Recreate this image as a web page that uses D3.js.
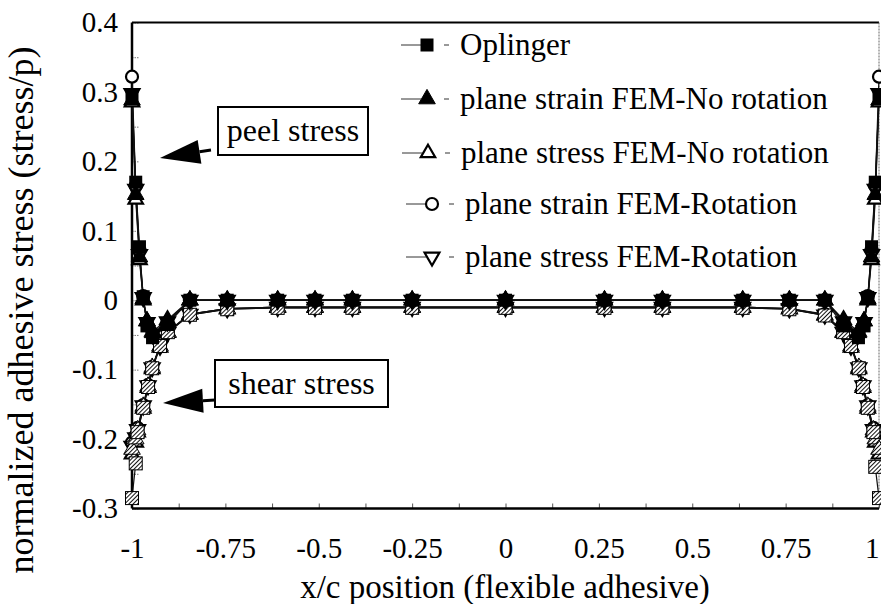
<!DOCTYPE html>
<html>
<head>
<meta charset="utf-8">
<script src="https://cdn.jsdelivr.net/npm/d3@7"></script>
<style>
  html, body { margin: 0; padding: 0; background: #fff; }
  svg { display: block; }
</style>
</head>
<body>
<svg id="chart" width="881" height="604"></svg>
<script>
// ---- data -------------------------------------------------------------
// normalized peel stress along the overlap
const xPeel = [-1, -0.99, -0.98, -0.97, -0.96, -0.945, -0.905, -0.845, -0.745, -0.61, -0.51, -0.41, -0.25,
               0, 0.265, 0.42, 0.635, 0.76, 0.855, 0.905, 0.945, 0.96, 0.97, 0.98, 0.99, 1];
const peelOplinger   = [0.295, 0.17, 0.077, 0.005, -0.037, -0.054, -0.035, 0, 0, 0, 0, 0, 0,
                        0, 0, 0, 0, 0, 0, -0.037, -0.054, -0.037, 0.004, 0.077, 0.17, 0.295];
const peelStrainNoRot = [0.288, 0.152, 0.062, 0.002, -0.03, -0.047, -0.03, 0, 0, 0, 0, 0, 0,
                        0, 0, 0, 0, 0, 0, -0.03, -0.047, -0.03, 0.002, 0.062, 0.152, 0.288];
const peelStressNoRot = [0.285, 0.145, 0.058, 0.0, -0.03, -0.045, -0.028, 0, 0, 0, 0, 0, 0,
                        0, 0, 0, 0, 0, 0, -0.028, -0.045, -0.03, 0.0, 0.058, 0.145, 0.285];
const peelStrainRot   = [0.322, 0.165, 0.072, 0.006, -0.033, -0.05, -0.032, 0, 0, 0, 0, 0, 0,
                        0, 0, 0, 0, 0, 0, -0.032, -0.05, -0.033, 0.006, 0.072, 0.165, 0.322];
const peelStressRot   = [0.298, 0.16, 0.066, 0.004, -0.032, -0.049, -0.031, 0, 0, 0, 0, 0, 0,
                        0, 0, 0, 0, 0, 0, -0.031, -0.049, -0.032, 0.004, 0.066, 0.16, 0.298];

// normalized shear stress along the overlap
const xShear = [-1, -0.99, -0.985, -0.97, -0.957, -0.946, -0.925, -0.904, -0.845, -0.745, -0.61, -0.51, -0.41, -0.25,
                0, 0.265, 0.42, 0.635, 0.76, 0.855, 0.904, 0.925, 0.946, 0.957, 0.97, 0.985, 0.99, 1];
const shearOplinger    = [-0.285, -0.235, -0.19, -0.155, -0.125, -0.098, -0.066, -0.046, -0.021, -0.013, -0.011, -0.011, -0.011, -0.011,
                          -0.011, -0.011, -0.011, -0.011, -0.013, -0.022, -0.046, -0.066, -0.098, -0.125, -0.155, -0.19, -0.24, -0.285];
const shearStrainNoRot = [-0.215, -0.2, -0.187, -0.153, -0.124, -0.097, -0.066, -0.046, -0.02, -0.012, -0.01, -0.01, -0.01, -0.01,
                          -0.01, -0.01, -0.01, -0.01, -0.012, -0.021, -0.046, -0.066, -0.097, -0.124, -0.153, -0.187, -0.2, -0.215];
const shearStressNoRot = [-0.222, -0.205, -0.19, -0.156, -0.126, -0.099, -0.068, -0.047, -0.021, -0.013, -0.011, -0.011, -0.011, -0.011,
                          -0.011, -0.011, -0.011, -0.011, -0.013, -0.022, -0.047, -0.068, -0.099, -0.126, -0.156, -0.19, -0.205, -0.222];
const shearStrainRot   = [-0.205, -0.195, -0.184, -0.151, -0.122, -0.096, -0.065, -0.045, -0.02, -0.012, -0.01, -0.01, -0.01, -0.01,
                          -0.01, -0.01, -0.01, -0.01, -0.012, -0.02, -0.045, -0.065, -0.096, -0.122, -0.151, -0.184, -0.195, -0.205];
const shearStressRot   = [-0.21, -0.198, -0.186, -0.152, -0.123, -0.097, -0.066, -0.046, -0.02, -0.012, -0.01, -0.01, -0.01, -0.01,
                          -0.01, -0.01, -0.01, -0.01, -0.012, -0.021, -0.046, -0.066, -0.097, -0.123, -0.152, -0.186, -0.198, -0.21];

const seriesNames = ["Oplinger", "plane strain FEM-No rotation", "plane stress FEM-No rotation",
                     "plane strain FEM-Rotation", "plane stress FEM-Rotation"];
const seriesMarkers = ["square", "triangle", "triangleOpen", "circle", "triangleDown"];

const xTicks = [-1, -0.75, -0.5, -0.25, 0, 0.25, 0.5, 0.75, 1];
const xTickLabels = ["-1", "-0.75", "-0.5", "-0.25", "0", "0.25", "0.5", "0.75", "1"];
const yTicks = [0.4, 0.3, 0.2, 0.1, 0, -0.1, -0.2, -0.3];
const yTickLabels = ["0.4", "0.3", "0.2", "0.1", "0", "-0.1", "-0.2", "-0.3"];
const xMinorTicks = d3.range(-8, 9).map(i => i * 0.125);
const yMinorTicks = d3.range(-6, 9).map(i => i * 0.05);

const annotations = [
  { text: "peel stress" },
  { text: "shear stress" }
];

// ---- layout -----------------------------------------------------------
const SERIF = '"Liberation Serif", "Times New Roman", Times, Tinos, "Nimbus Roman", "DejaVu Serif", serif';
const svg = d3.select("#chart").style("font-family", SERIF);
const plot = { left: 132, right: 879, top: 22.5, bottom: 508.5 };
const TICK_FONT = 29, XTITLE_FONT = 33, YTITLE_FONT = 36, LEGEND_FONT = 31, NOTE_FONT = 32;

const x = d3.scaleLinear().domain([-1, 1]).range([plot.left, plot.right]);
const y = d3.scaleLinear().domain([-0.3, 0.4]).range([plot.bottom, plot.top]);

// hatch fill used by the shear markers
const defs = svg.append("defs");
const pat = defs.append("pattern").attr("id", "hatch").attr("patternUnits", "userSpaceOnUse")
  .attr("width", 3).attr("height", 3).attr("patternTransform", "rotate(45)");
pat.append("rect").attr("width", 3).attr("height", 3).attr("fill", "#fff");
pat.append("line").attr("x1", 0).attr("y1", 0).attr("x2", 0).attr("y2", 3)
  .attr("stroke", "#111").attr("stroke-width", 2);

// ---- axes -------------------------------------------------------------
// minor ticks, drawn inward
svg.append("g").attr("transform", `translate(0,${plot.bottom})`)
  .call(d3.axisBottom(x).tickValues(xMinorTicks).tickSize(-5).tickFormat(""))
  .call(g => g.select(".domain").remove())
  .call(g => g.selectAll("line").attr("stroke", "#555").attr("stroke-width", 1));
svg.append("g").attr("transform", `translate(${plot.left},0)`)
  .call(d3.axisLeft(y).tickValues(yMinorTicks).tickSize(-7).tickFormat(""))
  .call(g => g.select(".domain").remove())
  .call(g => g.selectAll("line").attr("stroke", "#777").attr("stroke-width", 1).attr("stroke-dasharray", "1.5,1"));

// tick labels
svg.append("g").attr("transform", `translate(0,${plot.bottom})`)
  .call(d3.axisBottom(x).tickValues(xTicks).tickSize(0).tickPadding(29)
        .tickFormat((d, i) => xTickLabels[i]))
  .call(g => g.select(".domain").remove())
  .call(g => g.attr("font-family", null))
  .call(g => g.selectAll("text").attr("font-size", TICK_FONT).attr("fill", "#000")
        .style("font-family", SERIF)
        .attr("text-anchor", d => d === 1 ? "end" : "middle")
        .attr("dx", d => d === 1 ? 0 : 0));
svg.append("g").attr("transform", `translate(${plot.left},0)`)
  .call(d3.axisLeft(y).tickValues(yTicks).tickSize(0).tickPadding(14)
        .tickFormat((d, i) => yTickLabels[i]))
  .call(g => g.select(".domain").remove())
  .call(g => g.attr("font-family", null))
  .call(g => g.selectAll("text").attr("font-size", TICK_FONT).attr("fill", "#000").style("font-family", SERIF));

// frame
svg.append("line").attr("x1", plot.left).attr("x2", plot.right).attr("y1", plot.top).attr("y2", plot.top)
  .attr("stroke", "#000").attr("stroke-width", 2);
svg.append("line").attr("x1", plot.right).attr("x2", plot.right).attr("y1", plot.top).attr("y2", plot.bottom)
  .attr("stroke", "#666").attr("stroke-width", 1).attr("stroke-dasharray", "2,1");
svg.append("line").attr("x1", plot.left).attr("x2", plot.right).attr("y1", plot.bottom).attr("y2", plot.bottom)
  .attr("stroke", "#000").attr("stroke-width", 2.5);
svg.append("line").attr("x1", plot.left).attr("x2", plot.left).attr("y1", plot.top).attr("y2", plot.bottom)
  .attr("stroke", "#000").attr("stroke-width", 2.5);

// axis titles
svg.append("text").attr("x", 505).attr("y", 598).attr("text-anchor", "middle")
  .style("font-family", SERIF).attr("font-size", XTITLE_FONT).text("x/c position (flexible adhesive)");
svg.append("text").attr("transform", `translate(33,310) rotate(-90)`)
  .attr("text-anchor", "middle").style("font-family", SERIF).attr("font-size", YTITLE_FONT)
  .text("normalized adhesive stress (stress/p)");

// ---- markers ----------------------------------------------------------
function drawMarker(g, kind, cx, cy, hatched) {
  const fillDark = hatched ? "url(#hatch)" : "#000";
  if (kind === "square") {
    g.append("rect").attr("x", cx - 6.5).attr("y", cy - 6.5).attr("width", 13).attr("height", 13)
      .attr("fill", fillDark).attr("stroke", "#000").attr("stroke-width", hatched ? 1 : 0);
  } else if (kind === "triangle") {
    g.append("path").attr("d", d3.symbol(d3.symbolTriangle, 120)()).attr("transform", `translate(${cx},${cy})`)
      .attr("fill", fillDark).attr("stroke", "#000").attr("stroke-width", 1);
  } else if (kind === "triangleOpen") {
    g.append("path").attr("d", d3.symbol(d3.symbolTriangle, 90)()).attr("transform", `translate(${cx},${cy})`)
      .attr("fill", hatched ? "url(#hatch)" : "#fff").attr("stroke", "#000").attr("stroke-width", 2.2);
  } else if (kind === "circle") {
    g.append("circle").attr("cx", cx).attr("cy", cy).attr("r", 6)
      .attr("fill", hatched ? "url(#hatch)" : "#fff").attr("stroke", "#000").attr("stroke-width", 2.2);
  } else if (kind === "triangleDown") {
    g.append("path").attr("d", d3.symbol(d3.symbolTriangle, 95)()).attr("transform", `translate(${cx},${cy}) rotate(180)`)
      .attr("fill", hatched ? "url(#hatch)" : "#fff").attr("stroke", "#000").attr("stroke-width", 2.2);
  }
}

const line = d3.line().x(d => x(d[0])).y(d => y(d[1]));
const peelSets  = [peelOplinger, peelStrainNoRot, peelStressNoRot, peelStrainRot, peelStressRot];
const shearSets = [shearOplinger, shearStrainNoRot, shearStressNoRot, shearStrainRot, shearStressRot];

const gLines = svg.append("g");
const gMarks = svg.append("g");

function drawCurves(xs, sets, hatched) {
  sets.forEach((vals) => {
    const pts = xs.map((v, j) => [v, vals[j]]);
    gLines.append("path").attr("d", line(pts)).attr("fill", "none")
      .attr("stroke", "#111").attr("stroke-width", 1.2);
  });
  // draw in reverse so the Oplinger markers sit on top
  for (let i = sets.length - 1; i >= 0; i--) {
    xs.forEach((v, j) => drawMarker(gMarks, seriesMarkers[i], x(v), y(sets[i][j]), hatched));
  }
}
drawCurves(xShear, shearSets, true);
drawCurves(xPeel, peelSets, false);

// ---- legend -----------------------------------------------------------
const legendY = [45, 99, 153, 204, 257];
const legendMarkerX = [427, 427, 428, 432, 432];
const gLeg = svg.append("g");
seriesNames.forEach((name, i) => {
  const ly = legendY[i], mx = legendMarkerX[i];
  gLeg.append("line").attr("x1", mx - 26).attr("x2", mx - 6).attr("y1", ly).attr("y2", ly)
    .attr("stroke", "#333").attr("stroke-width", 1);
  gLeg.append("line").attr("x1", mx + 17).attr("x2", mx + 22).attr("y1", ly).attr("y2", ly)
    .attr("stroke", "#333").attr("stroke-width", 1);
  drawMarker(gLeg, seriesMarkers[i], mx, ly, false);
  gLeg.append("text").attr("x", mx + 33).attr("y", ly + 10).style("font-family", SERIF)
    .attr("font-size", LEGEND_FONT).text(name);
});

// ---- annotations ------------------------------------------------------
const boxes = [
  { x: 218, y: 107, w: 150, h: 48, tip: [160, 158], tail: [211, 150] },
  { x: 215, y: 360, w: 173, h: 47, tip: [163, 403], tail: [215, 400] }
];
annotations.forEach((a, i) => {
  const b = boxes[i];
  svg.append("rect").attr("x", b.x).attr("y", b.y).attr("width", b.w).attr("height", b.h)
    .attr("fill", "#fff").attr("stroke", "#000").attr("stroke-width", 2);
  svg.append("text").attr("x", b.x + b.w / 2).attr("y", b.y + b.h / 2 + 10).attr("text-anchor", "middle")
    .style("font-family", SERIF).attr("font-size", NOTE_FONT).text(a.text);
  // arrow: short shaft plus long solid head
  const [tx, ty] = b.tip, [sx, sy] = b.tail;
  const ang = Math.atan2(ty - sy, tx - sx);
  const headLen = 40, headHalf = 12;
  const bx = tx - headLen * Math.cos(ang), by = ty - headLen * Math.sin(ang);
  const nx = -Math.sin(ang), ny = Math.cos(ang);
  svg.append("line").attr("x1", sx).attr("y1", sy).attr("x2", bx).attr("y2", by)
    .attr("stroke", "#000").attr("stroke-width", 3);
  svg.append("path")
    .attr("d", `M${tx},${ty} L${bx + nx * headHalf},${by + ny * headHalf} L${bx - nx * headHalf},${by - ny * headHalf} Z`)
    .attr("fill", "#000");
});
</script>
</body>
</html>
